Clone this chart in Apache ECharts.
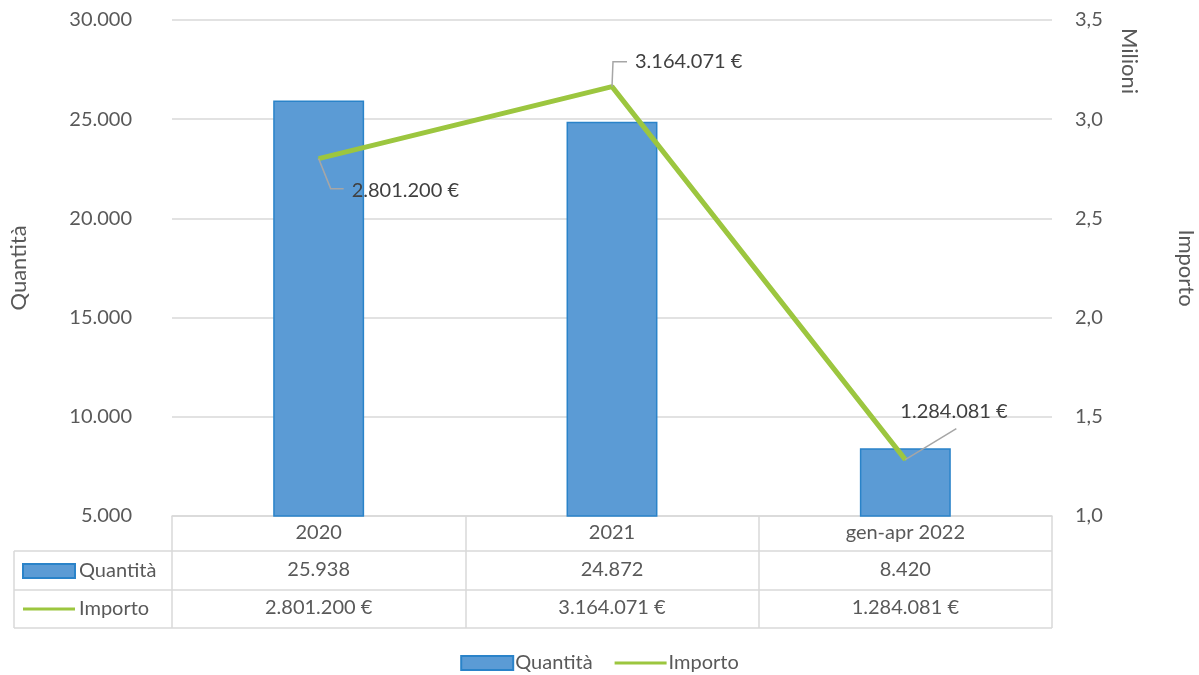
<!DOCTYPE html>
<html>
<head>
<meta charset="utf-8">
<script src="https://cdn.jsdelivr.net/npm/echarts@6/dist/echarts.min.js"></script>
<style>
  html, body {margin:0; padding:0; background:#fff;}
  #chart {width:1199px; height:675px;}
</style>
</head>
<body>
<div id="chart"></div>
<script>
    // dati
    const categories = ['2020', '2021', 'gen-apr 2022'];
    const quantita = [25938, 24872, 8420];
    const importo = [2801200, 3164071, 1284081];
    const leftAxis = {min: 5000, max: 30000, step: 5000};
    const rightAxis = {min: 1000000, max: 3500000, step: 500000};
    // spostamento etichette (dx, dy) rispetto al punto
    const labelShift = [[32, 32], [22, -25], [-6, -48]];
    // linee guida: vertici relativi al punto
    const leaderPts = [
        [[12, 30], [25, 30]],
        [[1, -25], [15, -25]],
        [[51, -31]]
    ];

    const FONT = 'Lato';
    const GREY = '#595959';
    const LINE = '#D9D9D9';
    const BLUE = '#5B9BD5';
    const GREEN = '#9CC63F';

    function migliaia(n) {
        return String(n).replace(/\B(?=(\d{3})+(?!\d))/g, '.');
    }
    function euro(n) {
        return migliaia(n) + ' €';
    }

    // icona legenda per la linea (box 52x14, linea sottile al centro)
    const lineIcon = 'path://M0 0 M0 5.5 L52 5.5 L52 8.5 L0 8.5 Z M52 14';

    // geometria del riquadro grafico + tabella dati
    const gLeft = 172, gRight = 1052, gTop = 20, gBottom = 516;
    const rowLines = [551, 590, 628];

    var chart = echarts.init(document.getElementById('chart'));

    var legendData = [{name: 'Quantità', icon: 'rect'}, {name: 'Importo', icon: lineIcon}];

    var option = {
        animation: false,
        textStyle: {fontFamily: FONT},
        grid: {
            left: gLeft, right: 1199 - gRight, top: gTop, bottom: 675 - gBottom,
            containLabel: false, outerBoundsMode: 'none'
        },
        legend: [
            {
                data: legendData,
                top: 647,
                left: 'center',
                itemWidth: 52,
                itemHeight: 14,
                itemGap: 22,
                textStyle: {fontSize: 20, color: GREY, fontFamily: FONT, lineHeight: 22, padding: [0, 0, 0, -3]}
            },
            {
                data: legendData,
                orient: 'vertical',
                left: 17,
                top: 555,
                itemWidth: 52,
                itemHeight: 14,
                itemGap: 16,
                textStyle: {fontSize: 20, color: GREY, fontFamily: FONT, lineHeight: 22, padding: [0, 0, 0, -1]}
            }
        ],
        xAxis: [
            {
                type: 'category',
                data: categories,
                axisLine: {lineStyle: {color: LINE, width: 1.5}},
                axisTick: {show: true, length: rowLines[2] - gBottom, lineStyle: {color: LINE, width: 1.5}},
                axisLabel: {margin: 7, fontSize: 20, color: GREY, interval: 0}
            },
            {
                type: 'category',
                data: quantita.map(migliaia),
                position: 'bottom',
                axisLine: {show: false},
                axisTick: {show: false},
                axisLabel: {margin: 44, fontSize: 20, color: GREY, interval: 0}
            },
            {
                type: 'category',
                data: importo.map(euro),
                position: 'bottom',
                axisLine: {show: false},
                axisTick: {show: false},
                axisLabel: {margin: 82, fontSize: 20, color: GREY, interval: 0}
            }
        ],
        yAxis: [
            {
                type: 'value',
                name: 'Quantità',
                nameLocation: 'middle',
                nameGap: 142,
                nameTextStyle: {fontSize: 22, color: GREY},
                min: leftAxis.min, max: leftAxis.max, interval: leftAxis.step,
                axisLine: {show: false},
                axisTick: {show: false},
                axisLabel: {margin: 40, fontSize: 20, color: GREY, formatter: migliaia},
                splitLine: {lineStyle: {color: LINE, width: 1.5}}
            },
            {
                type: 'value',
                name: 'Importo',
                nameLocation: 'middle',
                nameRotate: -90,
                nameGap: 123,
                nameTextStyle: {fontSize: 22, color: GREY},
                min: rightAxis.min, max: rightAxis.max, interval: rightAxis.step,
                axisLine: {show: false},
                axisTick: {show: false},
                axisLabel: {
                    margin: 23, fontSize: 20, color: GREY,
                    formatter: function (v) { return (v / 1e6).toFixed(1).replace('.', ','); }
                },
                splitLine: {show: false}
            }
        ],
        series: [
            {
                name: 'Quantità',
                type: 'bar',
                data: quantita,
                barWidth: '31%',
                itemStyle: {color: BLUE, borderColor: '#2A83C9', borderWidth: 1.5}
            },
            {
                name: 'Importo',
                type: 'line',
                yAxisIndex: 1,
                data: importo,
                symbol: 'circle',
                symbolSize: 2,
                itemStyle: {color: GREEN},
                lineStyle: {color: GREEN, width: 5},
                z: 5,
                label: {
                    show: true,
                    position: 'right',
                    distance: 0,
                    fontSize: 20,
                    color: '#404040',
                    formatter: function (p) { return euro(p.value); }
                },
                labelLayout: function (p) {
                    var s = labelShift[p.dataIndex];
                    return {dx: s[0], dy: s[1]};
                }
            }
        ],
        graphic: [
            // "Milioni" letto dall'alto verso il basso
            {type: 'text', x: 1140, y: 28, rotation: -Math.PI / 2,
             style: {text: 'Milioni', font: '22px ' + FONT, fill: GREY, align: 'left', verticalAlign: 'top'}}
        ]
    };

    // righe orizzontali della tabella dati
    rowLines.forEach(function (y) {
        option.graphic.push({type: 'line', shape: {x1: 14, y1: y, x2: gRight, y2: y},
            style: {stroke: LINE, lineWidth: 1.5}});
    });
    option.graphic.push({type: 'line', shape: {x1: 14, y1: rowLines[0], x2: 14, y2: rowLines[2]},
        style: {stroke: LINE, lineWidth: 1.5}});

    chart.setOption(option);

    // linee guida delle etichette, ancorate ai punti calcolati dalla scala
    var leaders = importo.map(function (v, i) {
        var a = chart.convertToPixel({xAxisIndex: 0, yAxisIndex: 1}, [i, v]);
        var pts = [[a[0], a[1]]].concat(leaderPts[i].map(function (d) {
            return [a[0] + d[0], a[1] + d[1]];
        }));
        return {type: 'polyline', shape: {points: pts}, z: 10,
            style: {stroke: '#A6A6A6', lineWidth: 1.5, fill: null}};
    });
    chart.setOption({graphic: option.graphic.concat(leaders)});
</script>
</body>
</html>
